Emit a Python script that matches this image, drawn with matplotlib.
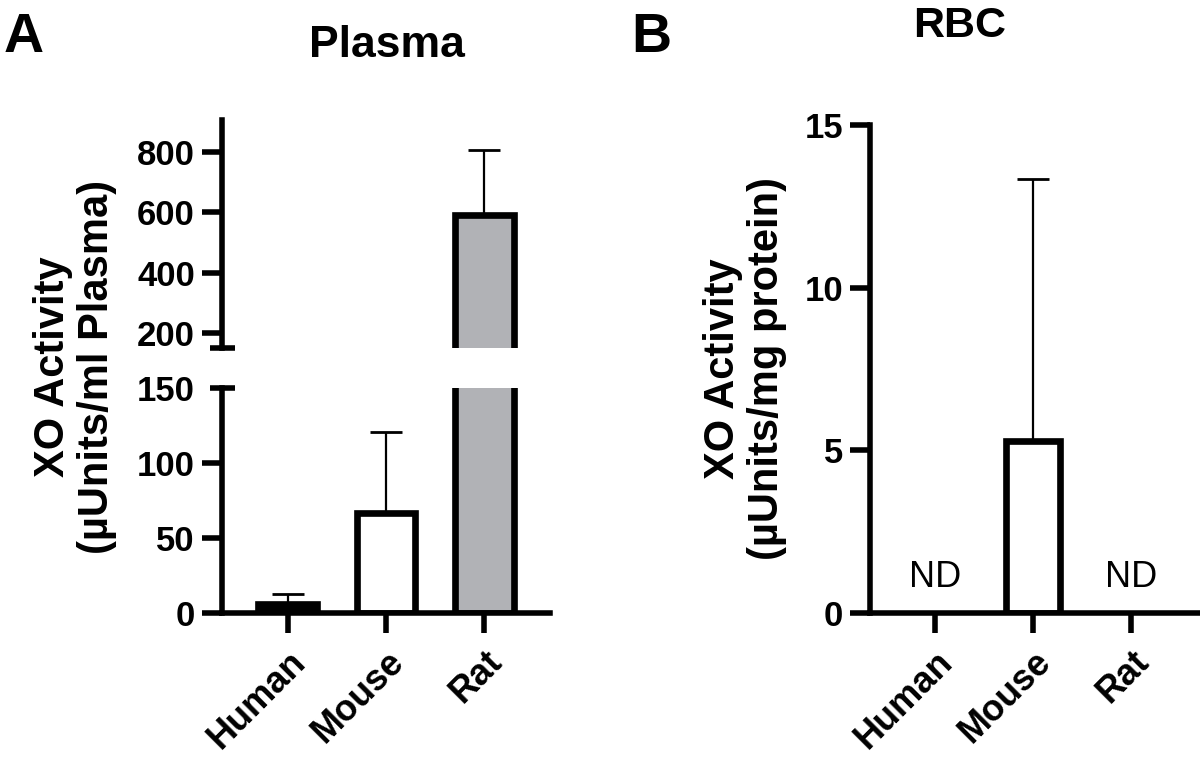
import matplotlib
matplotlib.use("Agg")
import matplotlib.pyplot as plt
import numpy as np

plt.rcParams['font.family'] = ['Liberation Sans', 'DejaVu Sans']
plt.rcParams['font.weight'] = 'bold'

# data
species = ['Human', 'Mouse', 'Rat']
plasma_mean = [6, 67, 590]
plasma_err = [7, 54, 215]
plasma_colors = ['black', 'white', '#b1b2b6']
rbc_mean = [0, 5.3, 0]
rbc_err = [0, 8.05, 0]
rbc_nd = [True, False, True]

W, H = 1200, 758
AX_LW = 4.0
BAR_LW = 4.8
TICK_LEN = 14.5

fig = plt.figure(figsize=(W / 100, H / 100), dpi=100)


def px_rect(left, top, right, bottom):
    return [left / W, 1 - bottom / H, (right - left) / W, (bottom - top) / H]


def style_axis(ax):
    for s in ['top', 'right']:
        ax.spines[s].set_visible(False)
    for s in ['left', 'bottom']:
        ax.spines[s].set_linewidth(AX_LW)
    ax.tick_params(axis='both', length=TICK_LEN, width=AX_LW, pad=5)
    ax.tick_params(axis='y', labelsize=25)
    ax.tick_params(axis='x', labelsize=26, pad=8)


def draw_bars(ax, x, means, errs, colors, width):
    ax.bar(x, means, width=width, color=colors, edgecolor='black', linewidth=BAR_LW, zorder=2)
    ax.errorbar(x, means, yerr=[np.zeros(len(errs)), errs], fmt='none', ecolor='black',
                elinewidth=1.6, capsize=11.5, capthick=2.0, zorder=1)


# ---- panel A, broken axis ----
ax_lo = fig.add_axes(px_rect(222, 388, 550, 613))
ax_hi = fig.add_axes(px_rect(222, 120, 550, 348))
for ax in (ax_lo, ax_hi):
    style_axis(ax)
    draw_bars(ax, np.arange(3), plasma_mean, plasma_err, plasma_colors, 0.6)
    ax.set_xlim(-0.67, 2.67)

ax_lo.set_ylim(0, 150)
ax_lo.set_yticks([0, 50, 100, 150])
ax_lo.set_xticks(range(3))
ax_lo.set_xticklabels(species, rotation=45, ha='right', rotation_mode='anchor')
ax_lo.yaxis.get_major_ticks()[-1].tick1line.set_visible(False)

ax_hi.set_ylim(150, 906)
ax_hi.set_yticks([200, 400, 600, 800])
ax_hi.spines['bottom'].set_visible(False)
ax_hi.set_xticks([])

# break marks
ax_lo.plot([-0.037, 0.04], [1, 1], transform=ax_lo.transAxes, color='black',
           lw=AX_LW, clip_on=False, solid_capstyle='butt')
ax_hi.plot([-0.037, 0.04], [0, 0], transform=ax_hi.transAxes, color='black',
           lw=AX_LW, clip_on=False, solid_capstyle='butt')

# ---- panel B ----
ax_b = fig.add_axes(px_rect(870, 125, 1198, 613))
style_axis(ax_b)
detected = [i for i, nd in enumerate(rbc_nd) if not nd]
draw_bars(ax_b, detected, [rbc_mean[i] for i in detected], [rbc_err[i] for i in detected],
          ['white'] * len(detected), 0.55)
ax_b.set_xlim(-0.66, 2.68)
ax_b.set_ylim(0, 15)
ax_b.set_yticks([0, 5, 10, 15])
ax_b.set_xticks(range(3))
ax_b.set_xticklabels(species, rotation=45, ha='right', rotation_mode='anchor')
for i, nd in enumerate(rbc_nd):
    if nd:
        ax_b.text(i, 1.1, 'ND', ha='center', va='center', fontsize=26, fontweight='normal')

# ---- text ----
fig.text(0.003, 1 - 52 / H, 'A', fontsize=40, fontweight='bold', ha='left', va='baseline')
fig.text(0.526, 1 - 52 / H, 'B', fontsize=40, fontweight='bold', ha='left', va='baseline')
fig.text(387 / W, 1 - 57 / H, 'Plasma', fontsize=32, fontweight='bold', ha='center', va='baseline')
fig.text(960 / W, 1 - 37 / H, 'RBC', fontsize=31, fontweight='bold', ha='center', va='baseline')
fig.text(75 / W, 1 - 367 / H, 'XO Activity\n(µUnits/ml Plasma)', fontsize=30, fontweight='bold',
         rotation=90, ha='center', va='center', multialignment='center', linespacing=1.15)
fig.text(745 / W, 1 - 369 / H, 'XO Activity\n(µUnits/mg protein)', fontsize=30, fontweight='bold',
         rotation=90, ha='center', va='center', multialignment='center', linespacing=1.15)

fig.savefig('out.png', dpi=100, facecolor='white')
